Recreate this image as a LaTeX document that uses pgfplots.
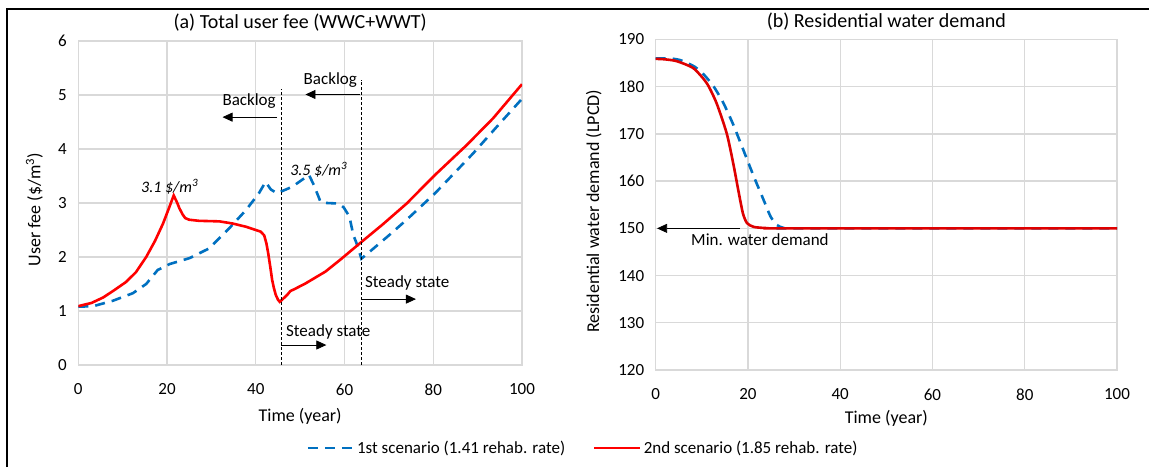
\documentclass[border=0pt]{standalone}
\usepackage{fontspec}
\setmainfont{Carlito}
\usepackage{pgfplots}
\pgfplotsset{compat=1.18}
\usetikzlibrary{arrows.meta}

\definecolor{redA}{RGB}{255,0,0}
\definecolor{redB}{RGB}{222,0,0}
\definecolor{blueA}{RGB}{0,112,192}
\definecolor{gridgray}{RGB}{217,217,217}

\newcommand{\fs}[1]{\fontsize{#1}{#1}\selectfont}

\tikzset{
  blueline/.style={blueA, line width=2.6pt, dash pattern=on 10pt off 7pt},
  arr/.style={black, line width=0.8pt, -{Triangle[length=10pt,width=9pt]}},
  guide/.style={black, line width=0.8pt, dash pattern=on 3pt off 2pt},
}

\pgfplotsset{
  panel/.style={
    scale only axis,
    xmin=0, xmax=100, xtick={0,20,...,100},
    grid=major,
    grid style={gridgray, line width=1.4pt},
    axis line style={gridgray, line width=1.4pt},
    tick style={draw=none},
    /pgf/number format/assume math mode=true,
    tick label style={font=\fs{17}, black},
    yticklabel style={anchor=east, xshift=-8pt},
    xticklabel style={yshift=-15pt},
    label style={font=\fs{18}},
    title style={font=\fs{20}, at={(axis description cs:0.5,1)}, anchor=south, yshift=0pt},
    xlabel={Time (year)},
  },
}

\begin{document}
\begin{tikzpicture}
\useasboundingbox (0pt,0pt) rectangle (1149pt,467pt);
\draw[black, line width=2pt] (6.5pt,0pt) -- (6.5pt,458pt) -- (1149pt,458pt);

% (a) user fee
\begin{axis}[panel,
    at={(78.3pt,102pt)}, anchor=south west,
    width=443.7pt, height=324pt,
    ymin=0, ymax=6, ytick={0,1,...,6},
    title={(a) Total user fee (WWC+WWT)},
    xlabel style={at={(axis description cs:0.5,-0.157)}, anchor=center},
    ylabel={User fee (\$/m\textsuperscript{3})},
    ylabel style={at={(axis description cs:-0.099,0.48)}, anchor=center},
    legend columns=2,
    legend style={at={(axis description cs:1.1375,-0.256)}, anchor=center,
      draw=none, fill=none, font=\fs{17},
      /tikz/every even column/.append style={column sep=26pt}},
    legend image code/.code={\draw[#1] (0pt,0pt) -- (46pt,0pt);},
  ]
  \addplot[blueline] coordinates {
    (0,1.08) (3.4,1.09) (7.8,1.19) (12.3,1.33) (15.3,1.5) (17.9,1.76)
    (20.6,1.87) (25.1,1.98) (29.5,2.16) (34.0,2.53) (37.8,2.87) (40.7,3.18)
    (42.2,3.39) (43.4,3.25) (44.8,3.18) (48.2,3.30) (52.0,3.52) (53.1,3.33)
    (54.6,3.02) (56,3.0) (58.7,2.99) (59.8,2.92) (61.1,2.75) (62.0,2.4)
    (62.6,2.28) (63.8,1.97) (65.7,2.1) (70,2.4) (74.0,2.69) (80.4,3.18)
    (89.0,3.92) (94.3,4.41) (100,4.93)
  };
  \addlegendentry{1st scenario (1.41 rehab. rate)}
  \addplot[redA, line width=2.6pt] coordinates {
    (0,1.09) (3,1.15) (5.6,1.25) (8,1.38) (10.8,1.54) (13,1.72) (15.3,2.0)
    (17.3,2.3) (19.1,2.62) (20.5,2.92) (21.5,3.14) (22.2,3.02) (22.8,2.9)
    (23.5,2.79) (24.1,2.72) (25,2.69) (27.2,2.67) (31.8,2.66) (34.8,2.62)
    (37.8,2.56) (41.1,2.47) (41.9,2.4) (42.4,2.25) (42.8,2.07) (43.3,1.8)
    (43.7,1.57) (44.1,1.42) (44.5,1.30) (45.0,1.21) (45.4,1.17) (46.2,1.23)
    (47.1,1.30) (47.8,1.37) (48.6,1.40) (51.2,1.51) (55.7,1.73) (58.9,1.94)
    (63.4,2.25) (68.7,2.61) (74.0,2.99) (80.4,3.52) (87.5,4.07) (93.5,4.57) (100,5.2)
  };
  \addlegendentry{2nd scenario (1.85 rehab. rate)}

  % guide lines and notes
  \draw[guide] (axis cs:45.7,0) -- (axis cs:45.7,5.12);
  \draw[guide] (axis cs:63.7,0) -- (axis cs:63.7,5.28);
  \draw[arr] (axis cs:44.8,4.59) -- (axis cs:32.5,4.59);
  \node[font=\fs{17}] at (axis cs:38.5,4.88) {Backlog};
  \draw[arr] (axis cs:63.5,5.01) -- (axis cs:51.2,5.01);
  \node[font=\fs{17}] at (axis cs:56.8,5.28) {Backlog};
  \draw[arr] (axis cs:45.7,0.37) -- (axis cs:55.9,0.37);
  \node[font=\fs{17}, anchor=west, inner sep=0pt] at (axis cs:46.8,0.605) {Steady state};
  \draw[arr] (axis cs:63.7,1.22) -- (axis cs:76.1,1.22);
  \node[font=\fs{17}, anchor=west, inner sep=0pt] at (axis cs:64.6,1.52) {Steady state};
  \node[font=\fs{16}\itshape] at (axis cs:20.6,3.3) {3.1 \$/m\textsuperscript{3}};
  \node[font=\fs{16}\itshape] at (axis cs:54.2,3.62) {3.5 \$/m\textsuperscript{3}};
\end{axis}

% (b) water demand
\begin{axis}[panel,
    at={(655.7pt,97pt)}, anchor=south west,
    width=461.3pt, height=330.5pt,
    ymin=120, ymax=190, ytick={120,130,...,190},
    title={(b) Residential water demand},
    xlabel style={at={(axis description cs:0.5,-0.145)}, anchor=center},
    ylabel={Residential water demand (LPCD)},
    ylabel style={at={(axis description cs:-0.134,0.48)}, anchor=center},
  ]
  \addplot[blueline, smooth, tension=0.4] coordinates {
    (0,186) (4,185.9) (6,185.4) (8.5,184.2) (10.5,182.5) (12.6,180)
    (14.7,176.5) (16.8,172) (19.0,166.6) (21.3,160.9) (23.4,156) (24.9,152.5)
    (26.3,150.7) (27.7,150.1) (30,150) (100,150)
  };
  \addplot[redB, line width=2.6pt, smooth, tension=0.4] coordinates {
    (0,185.9) (2,185.8) (4.6,185.4) (8.2,183.9) (11.1,180.7) (13.2,176.5)
    (15.4,170.1) (16.8,163.8) (17.9,158.1) (18.9,153.2) (19.8,151.1)
    (21.3,150.3) (24.2,150.05) (30,150) (100,150)
  };
  \draw[arr] (axis cs:18.3,150) -- (axis cs:0.3,150);
  \node[font=\fs{17}] at (axis cs:22.6,147.5) {Min. water demand};
\end{axis}
\end{tikzpicture}
\end{document}
